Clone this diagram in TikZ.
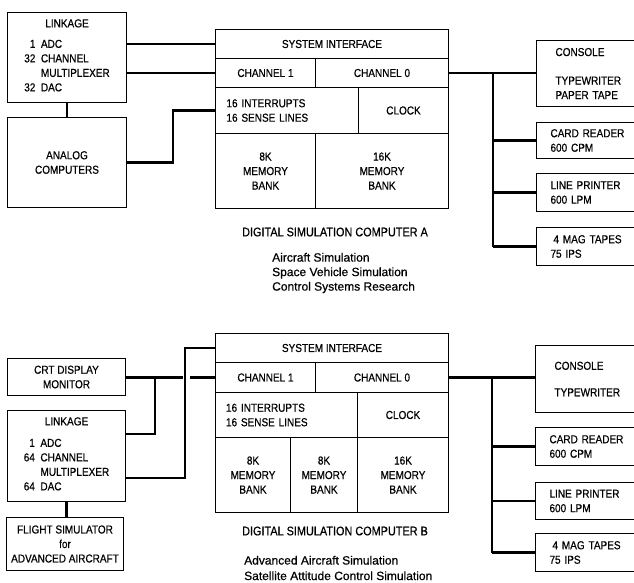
\documentclass[tikz,border=0pt]{standalone}
\usepackage{fontspec}
\setmainfont{Liberation Sans}[FakeStretch=0.87,FakeBold=0.6]
\newfontfamily\capfont{Liberation Sans}[FakeBold=0.6]
\tikzset{
  blk/.style 2 args={draw,line width=1pt,anchor=north west,inner sep=0pt,align=center,minimum width=#1pt,minimum height=#2pt},
  dev/.style={draw,line width=1pt,anchor=north west,inner xsep=14pt,inner ysep=0pt,text width=100pt,align=left,minimum height=#1pt},
  bus/.style={line width=2.2pt,black,solid},
  uses/.style={anchor=west,align=left,inner sep=0pt,font=\capfont\fontsize{12}{#1}\selectfont}
}
\begin{document}
\begin{tikzpicture}[x=1pt,y=-1pt,font=\fontsize{11.5}{14.5}\selectfont]
  \useasboundingbox (0,0) rectangle (634,582);
  \clip (0,0) rectangle (634,582);
  % computer A
  \node[blk={119}{90}] (linkA) at (7,12) {LINKAGE\\[6pt]\begin{tabular}[t]{@{}r@{\ \ }l@{}}1&ADC\\32&CHANNEL\\&MULTIPLEXER\\32&DAC\end{tabular}};
  \node[blk={119}{90}] (anaA) at (7,117) {ANALOG\\COMPUTERS};
  \node[blk={233}{29}] (sysA) at (215,29) {SYSTEM INTERFACE};
  \node[blk={100}{29}] (chn1A) at (215,58) {CHANNEL 1};
  \node[blk={133}{29}] (chn0A) at (315,58) {CHANNEL 0};
  \node[blk={143}{46},text width=121pt,align=left] (intA) at (215,87) {16 INTERRUPTS\\16 SENSE LINES};
  \node[blk={90}{46}] (clkA) at (358,87) {CLOCK};
  \node[blk={100}{75}] (memA1) at (215,133) {8K\\MEMORY\\BANK};
  \node[blk={133}{75}] (memA2) at (315,133) {16K\\MEMORY\\BANK};
  \node[dev=66] (conA) at (536,40) {\hspace*{5pt}CONSOLE\\[14pt]\hspace*{5pt}TYPEWRITER\\\hspace*{5pt}PAPER TAPE};
  \node[dev=36] (cardA) at (536,122) {CARD READER\\600 CPM};
  \node[dev=38] (lineA) at (536,173) {LINE PRINTER\\600 LPM};
  \node[dev=38] (tapeA) at (536,227) {\hspace*{3pt}4 MAG TAPES\\75 IPS};
  \node (capA) at (335,232) {\fontsize{12.5}{15}\selectfont DIGITAL SIMULATION COMPUTER A};
  \node[uses=14.5] (useA) at (272,273) {Aircraft Simulation\\Space Vehicle Simulation\\Control Systems Research};
  \coordinate (busA) at (493,0);
  \begin{scope}[bus]
    \draw (sysA.west) -- (sysA.west -| linkA.east);
    \draw (chn1A.west) -- (chn1A.west -| linkA.east);
    \draw (linkA.south) -- (anaA.north);
    \draw (anaA.east) -- ++(46,0) |- (intA.west);
    \draw (chn0A.east) -- (chn0A.east -| conA.west);
    \draw (busA |- chn0A.east) -- (busA |- tapeA.west);
    \foreach \d in {cardA,lineA,tapeA} \draw (busA |- \d.west) -- (\d.west);
  \end{scope}
  % computer B
  \node[blk={118}{37}] (crtB) at (7,358) {CRT DISPLAY\\MONITOR};
  \node[blk={118}{91}] (linkB) at (7,410) {LINKAGE\\[7pt]\begin{tabular}[t]{@{}r@{\ \ }l@{}}1&ADC\\64&CHANNEL\\&MULTIPLEXER\\64&DAC\end{tabular}};
  \node[blk={117}{53}] (fltB) at (6,517) {FLIGHT SIMULATOR\\for\\ADVANCED AIRCRAFT};
  \node[blk={233}{29}] (sysB) at (215,333) {SYSTEM INTERFACE};
  \node[blk={100}{30}] (chn1B) at (215,362) {CHANNEL 1};
  \node[blk={133}{30}] (chn0B) at (315,362) {CHANNEL 0};
  \node[blk={142}{45},text width=121pt,align=left] (intB) at (215,392) {16 INTERRUPTS\\16 SENSE LINES};
  \node[blk={91}{45}] (clkB) at (357,392) {CLOCK};
  \node[blk={75}{75}] (memB1) at (215,437) {8K\\MEMORY\\BANK};
  \node[blk={67}{75}] (memB2) at (290,437) {8K\\MEMORY\\BANK};
  \node[blk={91}{75}] (memB3) at (357,437) {16K\\MEMORY\\BANK};
  \node[dev=67] (conB) at (535,345) {\hspace*{5pt}CONSOLE\\[12pt]\hspace*{5pt}TYPEWRITER};
  \node[dev=38] (cardB) at (535,427) {CARD READER\\600 CPM};
  \node[dev=37] (lineB) at (535,482) {LINE PRINTER\\600 LPM};
  \node[dev=38] (tapeB) at (535,533) {\hspace*{3pt}4 MAG TAPES\\75 IPS};
  \node (capB) at (335,531) {\fontsize{12.5}{15}\selectfont DIGITAL SIMULATION COMPUTER B};
  \node[uses=15.5] (useB) at (244,568) {Advanced Aircraft Simulation\\Satellite Attitude Control Simulation};
  \coordinate (busB) at (492,0);
  \coordinate (upB) at (155,434);
  \coordinate (loB) at (185,478);
  \begin{scope}[bus]
    \draw (upB -| linkB.east) -| (155,377);
    \draw[bus] (loB -| linkB.east) -- (loB) |- (sysB.west);
    \draw[dash pattern=on 56.5pt off 7.5pt on 200pt] (chn1B.west -| crtB.east) -- (chn1B.west);
    \draw (linkB.south) -- (linkB.south |- fltB.north);
    \draw (chn0B.east) -- (chn0B.east -| conB.west);
    \draw (busB |- chn0B.east) -- (busB |- tapeB.west);
    \foreach \d in {cardB,lineB,tapeB} \draw (busB |- \d.west) -- (\d.west);
  \end{scope}
\end{tikzpicture}
\end{document}
